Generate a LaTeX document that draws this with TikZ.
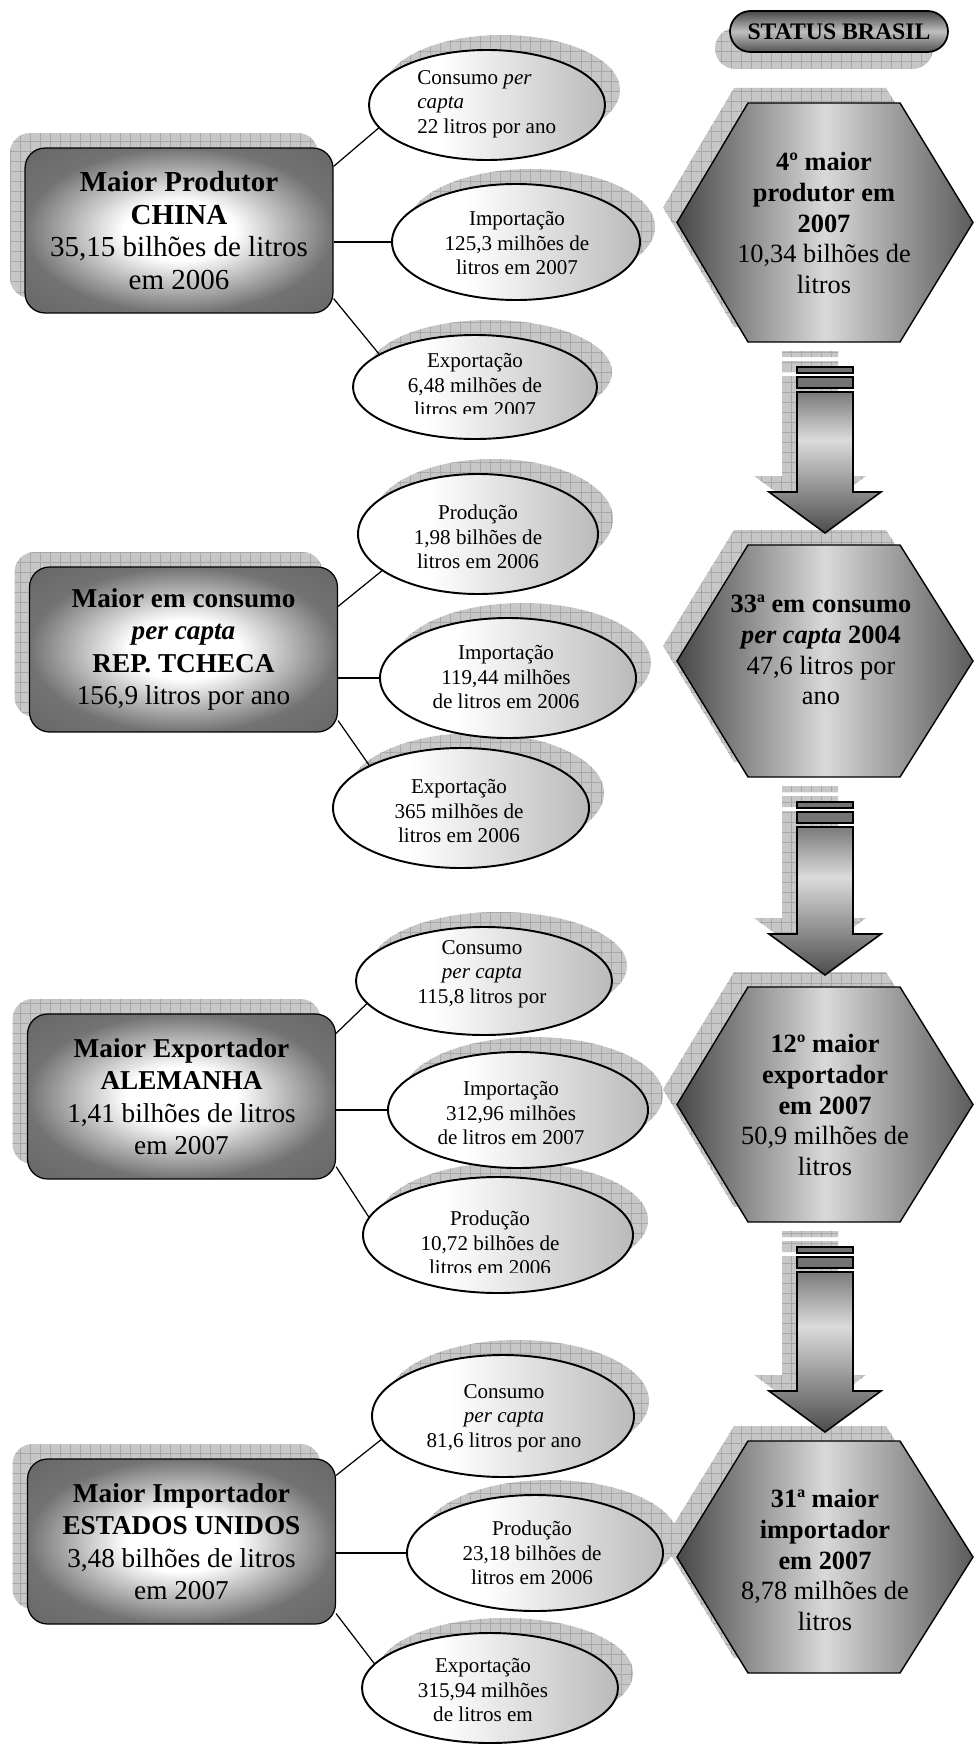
\documentclass[tikz,border=0pt]{standalone}
\usepackage{fontspec}
\setmainfont{Liberation Serif}
\usetikzlibrary{patterns.meta,calc,shapes.geometric}

\pgfdeclareradialshading{boxshade}{\pgfpoint{0bp}{0bp}}{color(0bp)=(white); color(9bp)=(white); color(25bp)=(black!55); color(36bp)=(black!60); color(50bp)=(black!60)}
\pgfdeclarehorizontalshading{hexshade}{100bp}{color(0bp)=(black!72); color(25bp)=(black!72); color(50bp)=(black!15); color(75bp)=(black!64); color(100bp)=(black!64)}
\pgfdeclarehorizontalshading{ellshade}{100bp}{color(0bp)=(white); color(40bp)=(white); color(75bp)=(black!27); color(100bp)=(black!27)}
\pgfdeclareverticalshading{arrowshade}{100bp}{color(0bp)=(black!70); color(25bp)=(black!70); color(58bp)=(black!14); color(75bp)=(black!52); color(100bp)=(black!52)}
\pgfdeclareverticalshading{pillshade}{100bp}{color(0bp)=(black!68); color(25bp)=(black!68); color(50bp)=(black!25); color(75bp)=(black!72); color(100bp)=(black!72)}

\newcommand{\HexPath}[3]{(#1-148,#2) -- (#1-77,#2-#3) -- (#1+75,#2-#3) -- (#1+148,#2) -- (#1+75,#2+#3) -- (#1-77,#2+#3) -- cycle}
\newcommand{\ArrowPath}[2]{(797,#1+50) -- (853,#1+50) -- (853,#2-41) -- (881,#2-41) -- (825,#2) -- (769,#2-41) -- (797,#2-41) -- cycle}
\newcommand{\BarOne}[1]{(797,#1+25) rectangle (853,#1+31)}
\newcommand{\BarTwo}[1]{(797,#1+35) rectangle (853,#1+46)}
\newcommand{\EllNode}[5]{\node[ellnode, minimum width=2*#4*0.02cm, minimum height=2*#5*0.02cm] (#1) at (#2,#3) {};}
\newcommand{\EllShadow}[5]{\node[ellshadow, minimum width=2*#4*0.02cm, minimum height=2*#5*0.02cm] (#1s) at (#2+15,#3-15) {};}

\tikzset{
  shadowfill/.style={fill=black!22, postaction={pattern color=black!34, pattern={Hatch[angle=0,distance=5.7pt,line width=0.4pt]}}},
  mainbox/.style={rectangle, draw=black, line width=0.7pt, rounded corners=0.4cm, shading=boxshade, minimum width=6.16cm, minimum height=3.3cm, inner sep=0pt, align=center, font=\fontsize{15.5}{18.5}\selectfont},
  boxshadow/.style={rectangle, rounded corners=0.4cm, shadowfill, minimum width=6.16cm, minimum height=3.3cm, inner sep=0pt},
  ellnode/.style={ellipse, draw=black, line width=1.1pt, shading=ellshade, inner sep=0pt},
  ellshadow/.style={ellipse, shadowfill, inner sep=0pt},
  etext/.style={align=center, inner sep=0pt, font=\fontsize{12}{14}\selectfont},
  conn/.style={draw=black, line width=0.7pt},
  hexshape/.style={draw=black, line width=0.8pt, shading=hexshade},
  arrowshape/.style={draw=black, line width=0.9pt, shading=arrowshade},
  barshape/.style={draw=black, line width=0.9pt, fill=black!55},
  htext/.style={align=center, inner sep=0pt, font=\fontsize{15}{17.5}\selectfont},
  pill/.style={rectangle, rounded corners=0.41cm, draw=black, line width=1pt, shading=pillshade, minimum width=4.36cm, minimum height=0.82cm, inner sep=0pt, font=\fontsize{13.5}{15}\selectfont\bfseries},
  pillshadow/.style={rectangle, rounded corners=0.41cm, shadowfill, minimum width=4.36cm, minimum height=0.82cm, inner sep=0pt},
}

\begin{document}
\begin{tikzpicture}[x=0.02cm, y=-0.02cm]
\useasboundingbox (0,0) rectangle (975,1744);
\fill[white] (0,0) rectangle (975,1744);

% ---------------- shadows ----------------
\node[pillshadow] (statuss) at (824,48.5) {};
\node[boxshadow] (b1s) at (164,215.5) {};
\node[boxshadow] (b2s) at (168.5,634.5) {};
\node[boxshadow] (b3s) at (166.5,1081.5) {};
\node[boxshadow] (b4s) at (166.5,1526.5) {};
\EllShadow{e1a}{487}{105}{118}{55}
\EllShadow{e1b}{516}{242}{124}{58}
\EllShadow{e1c}{475}{387}{122}{52}
\EllShadow{e2a}{478}{534}{120}{60}
\EllShadow{e2b}{508}{678}{128}{60}
\EllShadow{e2c}{461}{808}{128}{60}
\EllShadow{e3a}{484}{981}{128}{54}
\EllShadow{e3b}{518}{1110}{130}{58}
\EllShadow{e3c}{498}{1235}{135}{58}
\EllShadow{e4a}{503}{1416}{131}{61}
\EllShadow{e4b}{535}{1553}{128}{58}
\EllShadow{e4c}{490}{1688}{128}{55}
\path[shadowfill, shift={(-14,-15)}] \HexPath{825}{222.5}{119.5};
\path[shadowfill, shift={(-14,-15)}] \HexPath{825}{661}{116};
\path[shadowfill, shift={(-14,-15)}] \HexPath{825}{1104.5}{117.5};
\path[shadowfill, shift={(-14,-15)}] \HexPath{825}{1557}{116};
\path[shadowfill, shift={(-15,-16)}] \BarOne{342} \BarTwo{342} \ArrowPath{342}{533};
\path[shadowfill, shift={(-15,-16)}] \BarOne{777} \BarTwo{777} \ArrowPath{777}{975};
\path[shadowfill, shift={(-15,-16)}] \BarOne{1222} \BarTwo{1222} \ArrowPath{1222}{1432};

% ---------------- status pill ----------------
\node[pill] (status) at (839,31.5) {STATUS BRASIL};

% ---------------- left boxes ----------------
\node[mainbox, font=\fontsize{16.5}{18.5}\selectfont] (b1) at (179,230.5) {\textbf{Maior Produtor}\\\textbf{CHINA}\\35,15 bilhões de litros\\em 2006};
\node[mainbox] (b2) at (183.5,649.5) {\textbf{Maior em consumo}\\\textbf{\textit{per capta}}\\\textbf{REP. TCHECA}\\156,9 litros por ano};
\node[mainbox] (b3) at (181.5,1096.5) {\textbf{Maior Exportador}\\\textbf{ALEMANHA}\\1,41 bilhões de litros\\em 2007};
\node[mainbox] (b4) at (181.5,1541.5) {\textbf{Maior Importador}\\\textbf{ESTADOS UNIDOS}\\3,48 bilhões de litros\\em 2007};

% ---------------- ellipses ----------------
\EllNode{e1a}{487}{105}{118}{55}
\EllNode{e1b}{516}{242}{124}{58}
\EllNode{e1c}{475}{387}{122}{52}
\EllNode{e2a}{478}{534}{120}{60}
\EllNode{e2b}{508}{678}{128}{60}
\EllNode{e2c}{461}{808}{128}{60}
\EllNode{e3a}{484}{981}{128}{54}
\EllNode{e3b}{518}{1110}{130}{58}
\EllNode{e3c}{498}{1235}{135}{58}
\EllNode{e4a}{503}{1416}{131}{61}
\EllNode{e4b}{535}{1553}{128}{58}
\EllNode{e4c}{490}{1688}{128}{55}

% ---------------- connectors ----------------
\draw[conn] ($(b1.north east)+(0,19)$) -- (e1a.192);
\draw[conn] (b1.east |- e1b.west) -- (e1b.west);
\draw[conn] ($(b1.south east)+(0,-15)$) -- (e1c.161);
\draw[conn] ($(b2.north east)+(0,40)$) -- (e2a.201);
\draw[conn] (b2.east |- e2b.west) -- (e2b.west);
\draw[conn] ($(b2.south east)+(0,-12)$) -- (e2c.155);
\draw[conn] ($(b3.north east)+(0,20)$) -- (e3a.191);
\draw[conn] (b3.east |- e3b.west) -- (e3b.west);
\draw[conn] ($(b3.south east)+(0,-13)$) -- (e3c.172);
\draw[conn] ($(b4.north east)+(0,17)$) -- (e4a.191);
\draw[conn] (b4.east |- e4b.west) -- (e4b.west);
\draw[conn] ($(b4.south east)+(0,-11)$) -- (e4c.168);

% ---------------- ellipse texts ----------------
\node[etext, align=left, anchor=west] (t1a) at (417,104) {Consumo \textit{per}\\\textit{capta}\\22 litros por ano};
\node[etext] (t1b) at (517,243) {Importação\\125,3 milhões de\\litros em 2007};
\begin{scope}
\clip (340,320) rectangle (620,413);
\node[etext] (t1c) at (475,385) {Exportação\\6,48 milhões de\\litros em 2007};
\end{scope}
\node[etext] (t2a) at (478,537) {Produção\\1,98 bilhões de\\litros em 2006};
\node[etext] (t2b) at (506,677) {Importação\\119,44 milhões\\de litros em 2006};
\node[etext] (t2c) at (459,811) {Exportação\\365 milhões de\\litros em 2006};
\node[etext] (t3a) at (482,974) {Consumo\\\textit{per capta}\\115,8 litros por};
\node[etext] (t3b) at (511,1113) {Importação\\312,96 milhões\\de litros em 2007};
\begin{scope}
\clip (350,1170) rectangle (640,1272);
\node[etext] (t3c) at (490,1243) {Produção\\10,72 bilhões de\\litros em 2006};
\end{scope}
\node[etext] (t4a) at (504,1418) {Consumo\\\textit{per capta}\\81,6 litros por ano};
\node[etext] (t4b) at (532,1553) {Produção\\23,18 bilhões de\\litros em 2006};
\node[etext] (t4c) at (483,1690) {Exportação\\315,94 milhões\\de litros em};

% ---------------- hexagons ----------------
\path[hexshape] \HexPath{825}{222.5}{119.5};
\path[hexshape] \HexPath{825}{661}{116};
\path[hexshape] \HexPath{825}{1104.5}{117.5};
\path[hexshape] \HexPath{825}{1557}{116};
\node[htext] (h1) at (824,223) {\textbf{4º maior}\\\textbf{produtor em}\\\textbf{2007}\\10,34 bilhões de\\litros};
\node[htext] (h2) at (821,650) {\textbf{33ª em consumo}\\\textbf{\textit{per capta} 2004}\\47,6 litros por\\ano};
\node[htext] (h3) at (825,1105) {\textbf{12º maior}\\\textbf{exportador}\\\textbf{em 2007}\\50,9 milhões de\\litros};
\node[htext] (h4) at (825,1560) {\textbf{31ª maior}\\\textbf{importador}\\\textbf{em 2007}\\8,78 milhões de\\litros};

% ---------------- arrows ----------------
\path[barshape] \BarOne{342} \BarTwo{342};
\path[arrowshape] \ArrowPath{342}{533};
\path[barshape] \BarOne{777} \BarTwo{777};
\path[arrowshape] \ArrowPath{777}{975};
\path[barshape] \BarOne{1222} \BarTwo{1222};
\path[arrowshape] \ArrowPath{1222}{1432};
\end{tikzpicture}
\end{document}
